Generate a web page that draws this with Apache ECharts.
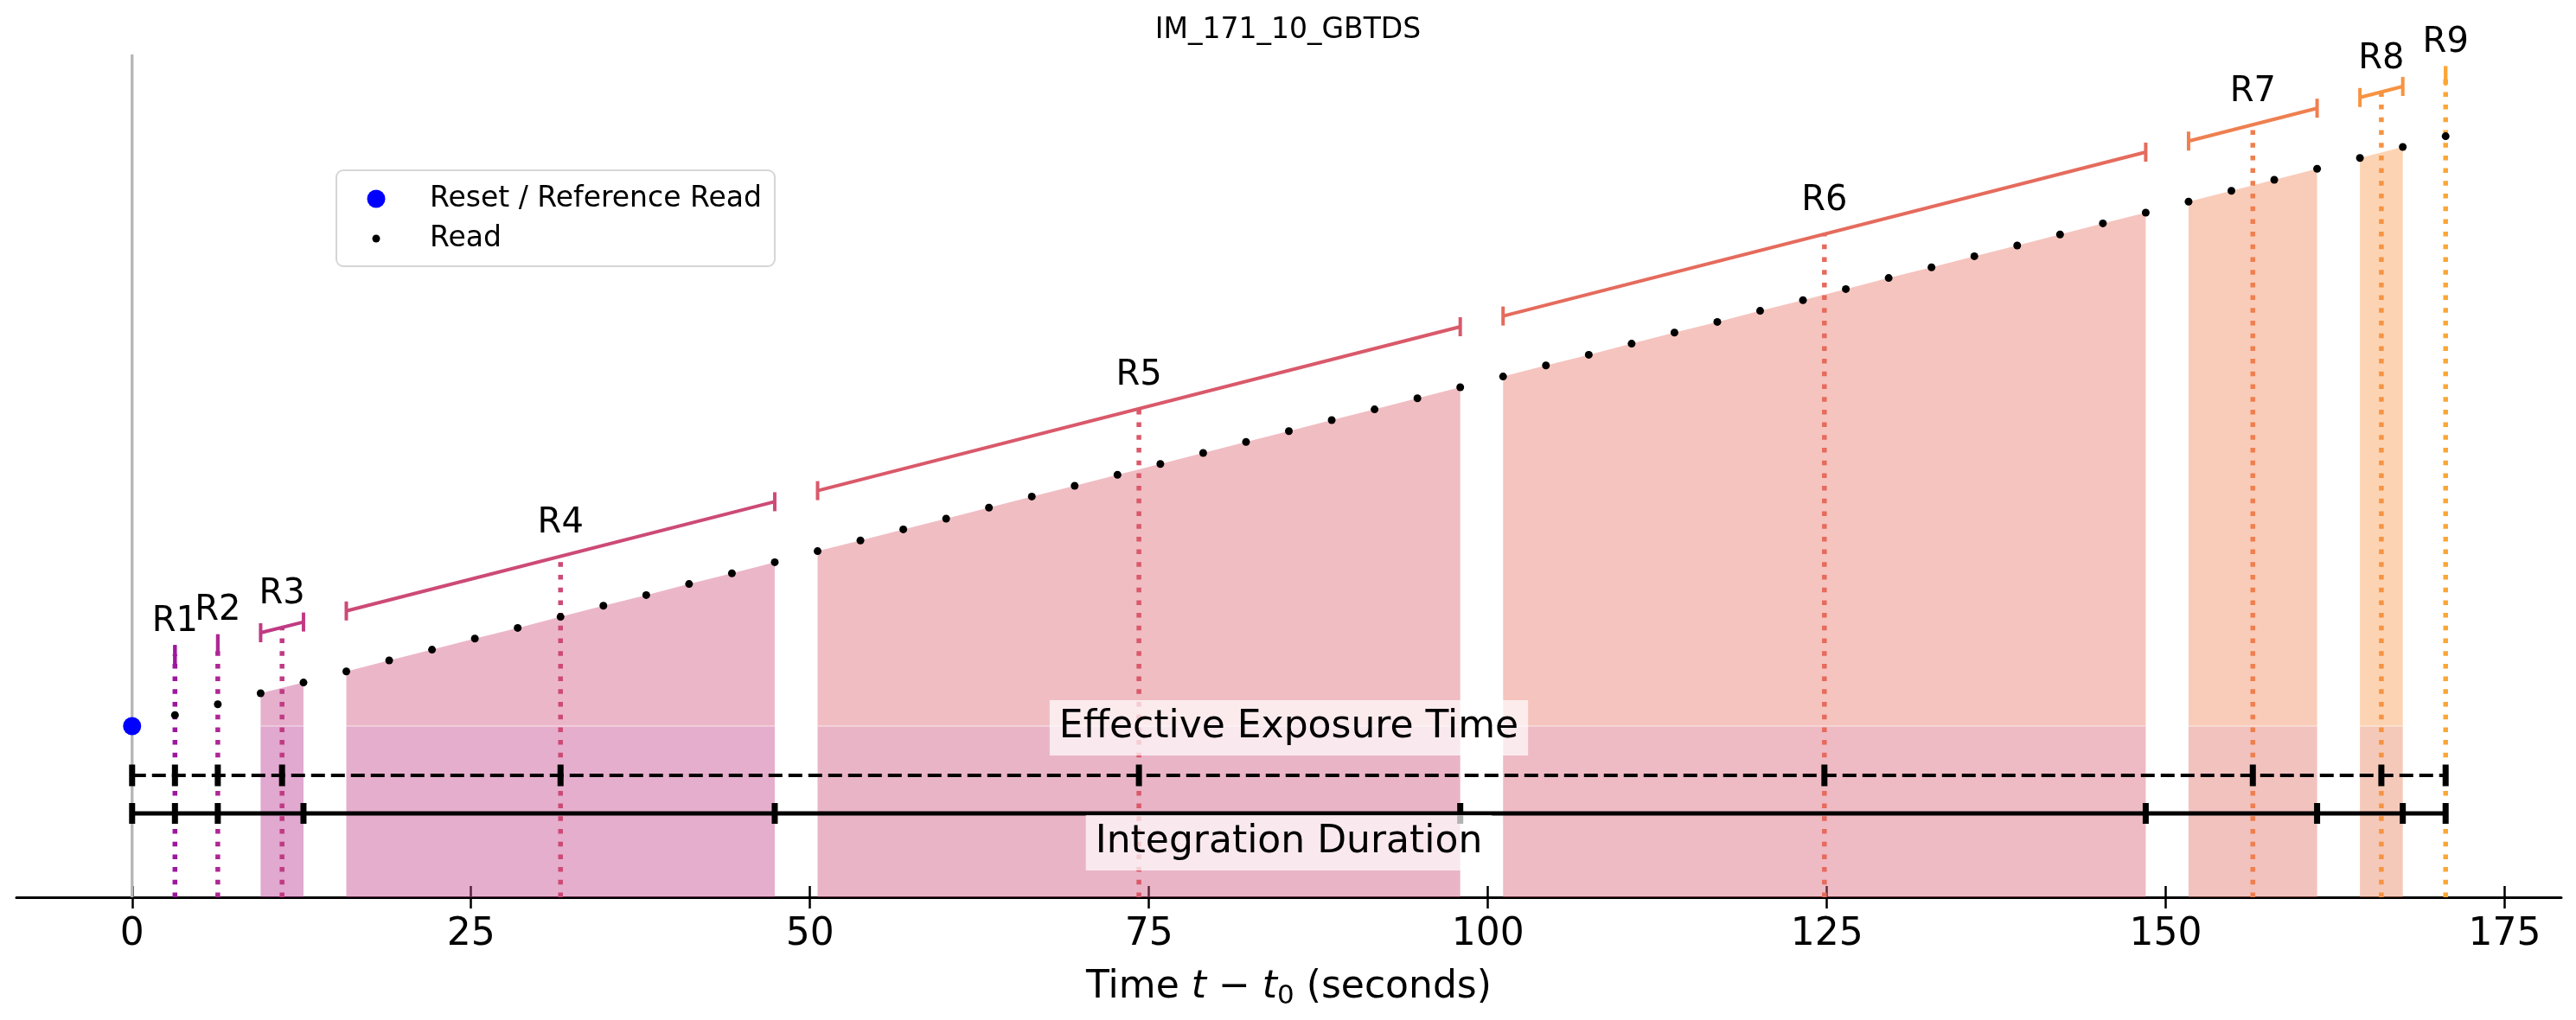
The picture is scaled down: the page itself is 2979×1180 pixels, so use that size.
<!DOCTYPE html>
<html>
<head>
<meta charset="utf-8">
<title>IM_171_10_GBTDS</title>
<script src="https://cdn.jsdelivr.net/npm/echarts@6/dist/echarts.min.js"></script>
<style>
  html, body { margin: 0; padding: 0; background: #fff; }
  #chart { width: 2979px; height: 1180px; }
</style>
</head>
<body>
<div id="chart"></div>
<script>
// read timeline of one MA table
const xTicks = [0, 25, 50, 75, 100, 125, 150, 175];

const resetTime = 0;
const resetSignal = 49.5;

const readTimes = [
  3.16, 6.32, 9.48, 12.64, 15.80, 18.96, 22.12, 25.28, 28.44, 31.60,
  34.76, 37.92, 41.08, 44.24, 47.40, 50.56, 53.72, 56.88, 60.04, 63.20,
  66.36, 69.52, 72.68, 75.84, 79.00, 82.16, 85.32, 88.48, 91.64, 94.80,
  97.96, 101.12, 104.28, 107.44, 110.60, 113.76, 116.92, 120.08, 123.24, 126.40,
  129.56, 132.72, 135.88, 139.04, 142.20, 145.36, 148.52, 151.68, 154.84, 158.00,
  161.16, 164.32, 167.48, 170.64,
];
const readSignal = [
  52.7, 55.8, 59.0, 62.1, 65.3, 68.5, 71.6, 74.8, 77.9, 81.1,
  84.3, 87.4, 90.6, 93.7, 96.9, 100.1, 103.2, 106.4, 109.5, 112.7,
  115.9, 119.0, 122.2, 125.3, 128.5, 131.7, 134.8, 138.0, 141.1, 144.3,
  147.5, 150.6, 153.8, 156.9, 160.1, 163.3, 166.4, 169.6, 172.7, 175.9,
  179.1, 182.2, 185.4, 188.5, 191.7, 194.9, 198.0, 201.2, 204.3, 207.5,
  210.7, 213.8, 217.0, 220.1,
];

// resultants: first / last read index, mean time
const resultantNames = ['R1', 'R2', 'R3', 'R4', 'R5', 'R6', 'R7', 'R8', 'R9'];
const resultantFirst = [0, 1, 2, 4, 15, 31, 47, 51, 53];
const resultantLast  = [0, 1, 3, 14, 30, 46, 50, 52, 53];
const resultantMean  = [3.16, 6.32, 11.06, 31.60, 74.26, 124.82, 156.42, 165.90, 170.64];
const resultantColors = ['#9c179e', '#ad2793', '#c03a83', '#cd4a76', '#d9596a',
                         '#e56b5d', '#ef7f4f', '#f79341', '#fca636'];

// layout (y in axis units, 1 unit = 4px)
const FONT = 'DejaVu Sans';
const X_MIN = -8.532, X_MAX = 179.172, Y_MAX = 243.75;
const BRACKET_OFF = 17.5;
const Y_EFF = 35.25, Y_INT = 24.25;

const tEnd = readTimes[readTimes.length - 1];
const endTimes = resultantLast.map(i => readTimes[i]);

const chart = echarts.init(document.getElementById('chart'), null, { renderer: 'canvas' });

const fillIdx = resultantNames.map((_, i) => i).filter(i => resultantLast[i] > resultantFirst[i]);

const option = {
  animation: false,
  backgroundColor: '#fff',
  title: {
    text: 'IM_171_10_GBTDS', left: 'center', top: 19, padding: 0,
    textStyle: { fontFamily: FONT, fontSize: 33, fontWeight: 'normal', color: '#000' },
  },
  grid: { left: 19, right: 17, top: 63, bottom: 142 },
  xAxis: [{
    type: 'value', min: X_MIN, max: X_MAX, position: 'bottom',
    splitLine: { show: false },
    axisLine: { show: true, onZero: false, lineStyle: { color: '#000', width: 3 } },
    axisTick: { show: true, length: 13, lineStyle: { color: '#000', width: 2.5 }, customValues: xTicks },
    axisLabel: { show: true, customValues: xTicks, margin: 22, fontFamily: FONT, fontSize: 44, color: '#000' },
    name: '{a|Time }{b|t}{a| − }{b|t}{c|0}{a| (seconds)}',
    nameLocation: 'middle', nameGap: 80,
    nameTextStyle: {
      rich: {
        a: { fontFamily: FONT, fontSize: 44, color: '#000', lineHeight: 50 },
        b: { fontFamily: FONT, fontSize: 44, fontStyle: 'italic', color: '#000', lineHeight: 50 },
        c: { fontFamily: FONT, fontSize: 31, color: '#000', lineHeight: 22, verticalAlign: 'bottom' },
      },
    },
  }, {
    type: 'value', min: X_MIN, max: X_MAX, position: 'bottom',
    splitLine: { show: false }, axisLine: { show: false }, axisLabel: { show: false },
    axisTick: { show: true, inside: true, length: 13, lineStyle: { color: '#000', width: 2.5 }, customValues: xTicks },
  }],
  yAxis: { type: 'value', min: 0, max: Y_MAX, show: false },
  graphic: [{
    type: 'group', left: 388, top: 196, z: 100,
    children: [
      { type: 'rect', shape: { x: 0, y: 0, width: 507, height: 111, r: 8 },
        style: { fill: 'rgba(255,255,255,0.8)', stroke: '#d6d6d6', lineWidth: 2 } },
      { type: 'circle', shape: { cx: 46, cy: 33, r: 10.5 }, style: { fill: '#0000ff' } },
      { type: 'circle', shape: { cx: 46, cy: 79, r: 4.5 }, style: { fill: '#000' } },
      { type: 'text', x: 108, y: 33, style: { text: 'Reset / Reference Read', fontFamily: FONT, fontSize: 33, fill: '#000', verticalAlign: 'middle' } },
      { type: 'text', x: 108, y: 79, style: { text: 'Read', fontFamily: FONT, fontSize: 33, fill: '#000', verticalAlign: 'middle' } },
    ],
  }],
  series: [
    // shaded integration area per resultant
    {
      type: 'custom', name: 'fills', silent: true, z: 1,
      data: fillIdx.map(i => [i]),
      renderItem(params, api) {
        const i = api.value(0);
        const f = resultantFirst[i], l = resultantLast[i];
        const c = resultantColors[i];
        const pts = [api.coord([readTimes[f], resetSignal])];
        for (let k = f; k <= l; k++) pts.push(api.coord([readTimes[k], readSignal[k]]));
        pts.push(api.coord([readTimes[l], resetSignal]));
        const b0 = api.coord([readTimes[f], 0]);
        const b1 = api.coord([readTimes[l], resetSignal]);
        const rect = { x: b0[0], y: b1[1], width: b1[0] - b0[0], height: b0[1] - b1[1] };
        return {
          type: 'group',
          children: [
            { type: 'polygon', shape: { points: pts }, style: { fill: c, opacity: 0.4 } },
            { type: 'rect', shape: rect, style: { fill: c, opacity: 0.4 } },
            { type: 'rect', shape: rect, style: { fill: 'rgb(170,80,255)', opacity: 0.08 } },
            { type: 'line', shape: { x1: b0[0], y1: b1[1], x2: b1[0], y2: b1[1] },
              style: { stroke: 'rgba(255,255,255,0.45)', lineWidth: 1.5 } },
          ],
        };
      },
    },
    // reset line at t = 0
    {
      type: 'line', name: 'zero', silent: true, z: 2, symbol: 'none',
      data: [[resetTime, 0], [resetTime, Y_MAX]],
      lineStyle: { color: '#b5b5b5', width: 3.3 },
    },
    // dotted mean-time lines, brackets and labels
    {
      type: 'custom', name: 'resultants', silent: true, z: 3,
      data: resultantNames.map((_, i) => [i]),
      renderItem(params, api) {
        const i = api.value(0);
        const f = resultantFirst[i], l = resultantLast[i];
        const c = resultantColors[i];
        const p0 = api.coord([readTimes[f], readSignal[f] + BRACKET_OFF]);
        const p1 = api.coord([readTimes[l], readSignal[l] + BRACKET_OFF]);
        const pm = api.coord([resultantMean[i], 0]);
        const fr = l === f ? 0 : (resultantMean[i] - readTimes[f]) / (readTimes[l] - readTimes[f]);
        const ym = p0[1] + fr * (p1[1] - p0[1]);
        const children = [
          { type: 'line', shape: { x1: pm[0], y1: pm[1], x2: pm[0], y2: ym },
            style: { stroke: c, lineWidth: 5.5, lineDash: [5.5, 9.2], lineCap: 'butt' } },
          { type: 'line', shape: { x1: p0[0], y1: p0[1], x2: p1[0], y2: p1[1] },
            style: { stroke: c, lineWidth: 4 } },
          { type: 'line', shape: { x1: p0[0], y1: p0[1] - 11, x2: p0[0], y2: p0[1] + 11 },
            style: { stroke: c, lineWidth: 4 } },
          { type: 'line', shape: { x1: p1[0], y1: p1[1] - 11, x2: p1[0], y2: p1[1] + 11 },
            style: { stroke: c, lineWidth: 4 } },
          { type: 'text', x: pm[0], y: ym - 38,
            style: { text: resultantNames[i], fontFamily: FONT, fontSize: 40, fill: '#000', align: 'center', verticalAlign: 'middle' } },
        ];
        return { type: 'group', children };
      },
    },
    // effective exposure time
    {
      type: 'line', name: 'effective', silent: true, z: 4, symbol: 'none',
      data: [[resetTime, Y_EFF], [tEnd, Y_EFF]],
      lineStyle: { color: '#000', width: 4, type: [16, 7] },
    },
    {
      type: 'scatter', name: 'effTicks', silent: true, z: 4, symbol: 'rect', symbolSize: [7, 25],
      data: [resetTime].concat(resultantMean).map(t => [t, Y_EFF]),
      itemStyle: { color: '#000', opacity: 1 },
    },
    // integration duration
    {
      type: 'line', name: 'integration', silent: true, z: 4, symbol: 'none',
      data: [[resetTime, Y_INT], [tEnd, Y_INT]],
      lineStyle: { color: '#000', width: 5 },
    },
    {
      type: 'scatter', name: 'intTicks', silent: true, z: 4, symbol: 'rect', symbolSize: [7, 24],
      data: [resetTime].concat(endTimes).map(t => [t, Y_INT]),
      itemStyle: { color: '#000', opacity: 1 },
    },
    // reads
    {
      type: 'scatter', name: 'Read', z: 5, symbol: 'circle', symbolSize: 9,
      data: readTimes.map((t, k) => [t, readSignal[k]]),
      itemStyle: { color: '#000', opacity: 1 },
    },
    {
      type: 'scatter', name: 'Reset / Reference Read', z: 5, symbol: 'circle', symbolSize: 21,
      data: [[resetTime, resetSignal]],
      itemStyle: { color: '#0000ff', opacity: 1 },
    },
    // text boxes
    {
      type: 'scatter', name: 'boxes', silent: true, z: 6, symbolSize: 0,
      itemStyle: { opacity: 1 },
      data: [
        { value: [tEnd / 2, 49.0], name: 'Effective Exposure Time' },
        { value: [tEnd / 2, 15.75], name: 'Integration Duration' },
      ],
      label: {
        show: true, position: 'inside', formatter: '{b}',
        fontFamily: FONT, fontSize: 44, color: '#000', lineHeight: 46,
        backgroundColor: 'rgba(255,255,255,0.7)', padding: [9, 11, 9, 11],
      },
    },
  ],
};

chart.setOption(option);
</script>
</body>
</html>
